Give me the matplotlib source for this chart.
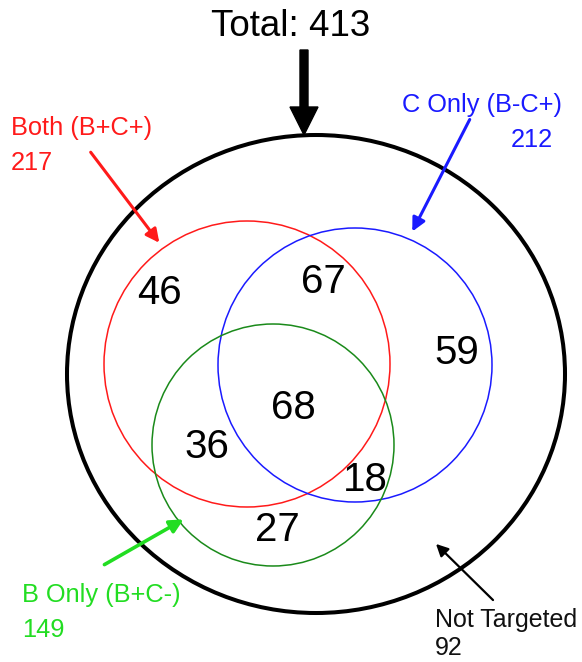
import matplotlib.pyplot as plt
from matplotlib.patches import Ellipse, Circle, FancyArrow

plt.rcParams['font.family'] = ['Liberation Sans', 'DejaVu Sans']

# counts per region of the diagram
region_labels = ["46", "67", "59", "68", "36", "18", "27"]
total = 413
both_total = 217
c_only_total = 212
b_only_total = 149
not_targeted = 92

fig = plt.figure(figsize=(5.82, 6.62), dpi=100)
ax = fig.add_axes([0, 0, 1, 1])
ax.set_xlim(0, 582)
ax.set_ylim(662, 0)
ax.set_aspect('equal')
ax.axis('off')

# outer set and the three sets
ax.add_patch(Ellipse((316, 374), 498, 478, fill=False, ec='black', lw=2.9))
ax.add_patch(Circle((247, 364), 143, fill=False, ec='#ff1a1a', lw=1.1))
ax.add_patch(Circle((355, 365), 137, fill=False, ec='#1a1aff', lw=1.1))
ax.add_patch(Circle((273, 445), 121, fill=False, ec='#1a8a1a', lw=1.1))

# region numbers
pos = [(159, 293), (323, 282), (457, 353), (293, 408), (207, 447), (365, 480), (277, 530)]
for lab, (x, y) in zip(region_labels, pos):
    ax.text(x, y, lab, fontsize=29, ha='center', va='center')

# title + big arrow
ax.text(291, 27, f"Total: {total}", fontsize=26.5, ha='center', va='center')
ax.add_patch(FancyArrow(304, 50, 0, 85, width=8, head_width=28, head_length=28,
                        length_includes_head=True, color='black'))

# side labels
red, blue, lime = '#ff1a1a', '#1a1aff', '#22dd22'
ax.text(11, 128, "Both (B+C+)", fontsize=18.3, color=red, va='center')
ax.text(11, 163, str(both_total), fontsize=18.3, color=red, va='center')
ax.annotate('', xy=(161, 245), xytext=(89, 150),
            arrowprops=dict(arrowstyle='-|>', color=red, lw=2.2, mutation_scale=20))

ax.text(402, 105, "C Only (B-C+)", fontsize=18.3, color=blue, va='center')
ax.text(532, 140, str(c_only_total), fontsize=18.3, color=blue, va='center', ha='center')
ax.annotate('', xy=(411, 234), xytext=(471, 117),
            arrowprops=dict(arrowstyle='-|>', color=blue, lw=2.2, mutation_scale=20))

ax.text(22, 595, "B Only (B+C-)", fontsize=18.3, color=lime, va='center')
ax.text(22, 630, str(b_only_total), fontsize=18.3, color=lime, va='center')
ax.annotate('', xy=(186, 518), xytext=(102, 566),
            arrowprops=dict(arrowstyle='-|>', color=lime, lw=2.6, mutation_scale=20))

ax.text(435, 620, "Not Targeted", fontsize=18, color='#111111', va='center')
ax.text(435, 648, str(not_targeted), fontsize=18, color='#111111', va='center')
ax.annotate('', xy=(434, 542), xytext=(495, 602),
            arrowprops=dict(arrowstyle='-|>', color='black', lw=1.6, mutation_scale=18))

fig.savefig('out.png', dpi=100)
